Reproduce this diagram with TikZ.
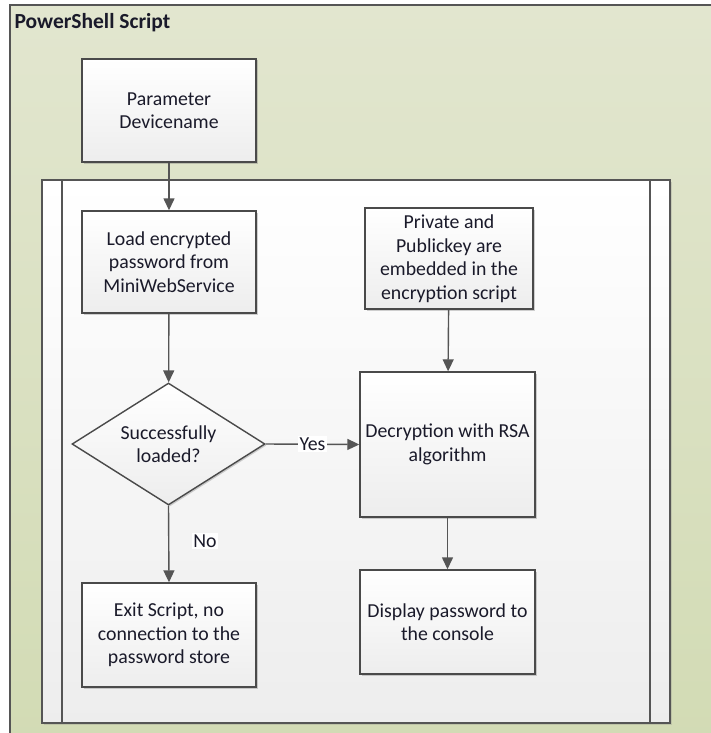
\documentclass[tikz,border=0pt]{standalone}
\usepackage{fontspec}
\setmainfont{Carlito}
\usetikzlibrary{arrows.meta,shadows,shapes.geometric}
\definecolor{bgtop}{HTML}{E2E6CF}
\definecolor{bgbot}{HTML}{D2DBB4}
\definecolor{edge}{HTML}{4A4A4A}
\definecolor{lanecol}{HTML}{555555}
\definecolor{txt}{HTML}{1A1A2A}
\begin{document}
\begin{tikzpicture}[x=1pt,y=-1pt,
  lbl/.style={font=\fontsize{19.8}{23.5}\selectfont, text=txt},
  box/.style={lbl, draw=edge, line width=1.4pt, top color=white, bottom color=black!7,
    align=center, inner sep=0pt,
    drop shadow={shadow xshift=1.5pt, shadow yshift=-1.5pt, opacity=0.3, fill=black!60}},
  dia/.style={box, diamond, aspect=1.58},
  flow/.style={draw=lanecol, line width=1.4pt, -{Triangle[length=12pt,width=11pt]}},
  tag/.style={lbl, fill=white, inner sep=1.5pt}
]
\useasboundingbox (0,0) rectangle (711,733);
% outer container
\fill[white] (0,0) rectangle (711,733);
\shade[top color=bgtop, bottom color=bgbot, draw=lanecol, line width=1.3pt]
  (10,5) rectangle (730,750);
\node[anchor=west, font=\bfseries\fontsize{21.5}{24}\selectfont, text=txt] (title) at (11,23) {PowerShell Script};
% inner container
\shade[top color=white, bottom color=black!7, draw=lanecol, line width=1.3pt,
  drop shadow={shadow xshift=1.5pt, shadow yshift=-1.5pt, opacity=0.25}]
  (42,180) rectangle (670,723);
\draw[lanecol, line width=1.3pt] (62,180) -- (62,723);
\draw[lanecol, line width=1.3pt] (650,180) -- (650,723);
% nodes
\node[box, minimum width=174pt, minimum height=103pt] (param) at (169,110.5) {Parameter\\Devicename};
\node[box, minimum width=174pt, minimum height=102pt] (load) at (169,262) {Load encrypted\\password from\\MiniWebService};
\node[box, minimum width=168pt, minimum height=101pt] (priv) at (449,258.5) {Private and\\Publickey are\\embedded in the\\encryption script};
\node[dia, minimum width=193pt, minimum height=122pt] (succ) at (168.5,444) {Successfully\\loaded?};
\node[box, minimum width=175pt, minimum height=145pt] (decr) at (447.5,444.5) {Decryption with RSA\\algorithm};
\node[box, minimum width=175pt, minimum height=104pt] (disp) at (447.5,622) {Display password to\\the console};
\node[box, minimum width=174pt, minimum height=104pt] (exit) at (169,635) {Exit Script, no\\connection to the\\password store};
% connectors
\draw[flow] (param) -- (load);
\draw[flow] (load) -- (succ);
\draw[flow] (priv) -- (decr);
\draw[flow] (decr) -- (disp);
\draw[flow] (succ.east) -- (decr.west) node[tag, pos=0.5] (yes) {Yes};
\draw[flow] (succ.south) -- (exit.north);
\node[tag] (no) at (205,541) {No};
\end{tikzpicture}
\end{document}
